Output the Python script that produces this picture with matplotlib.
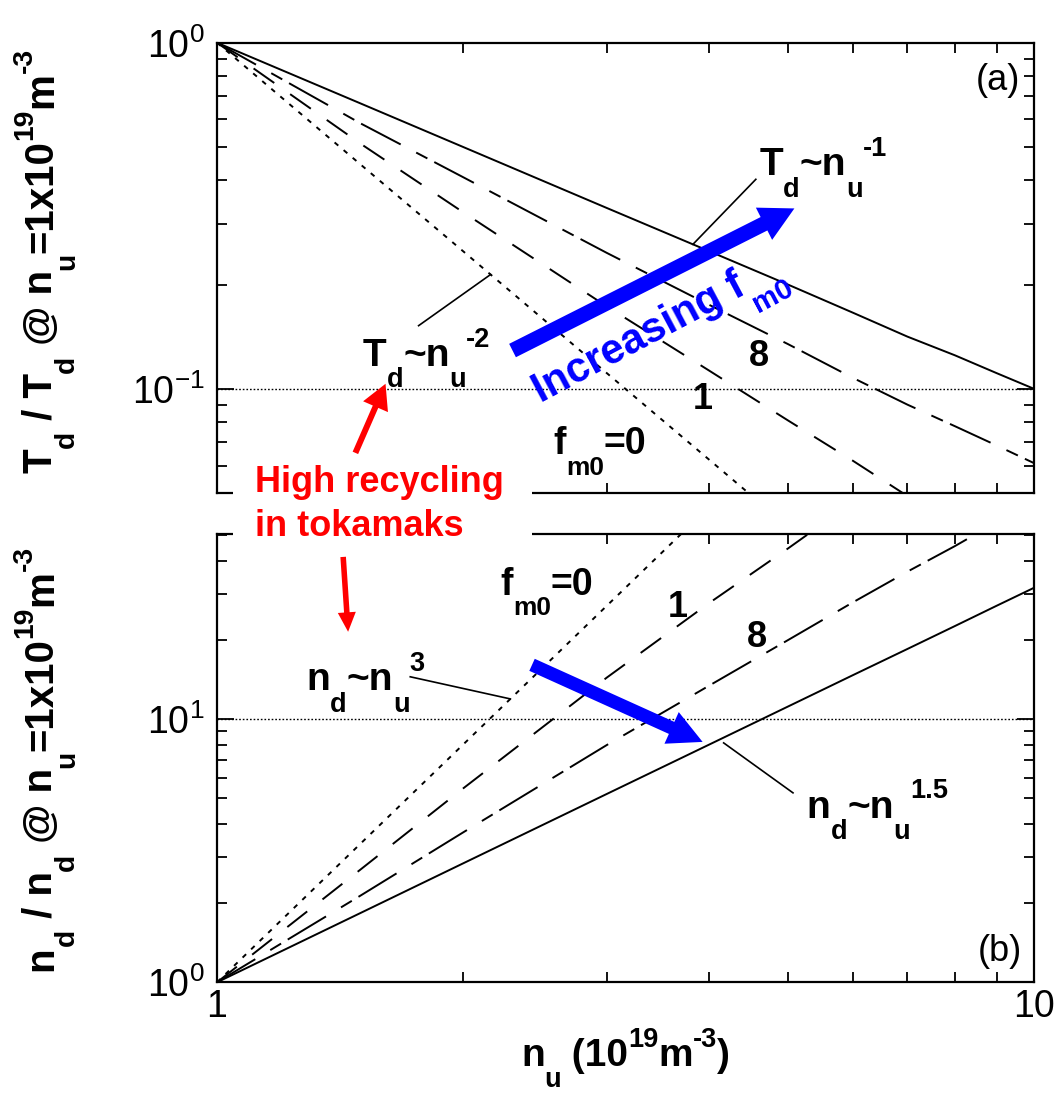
import numpy as np
import matplotlib
matplotlib.use('Agg')
import matplotlib.pyplot as plt
from matplotlib.ticker import NullFormatter
from matplotlib.patches import Rectangle
from matplotlib.transforms import IdentityTransform

plt.rcParams['font.family'] = ['Liberation Sans', 'DejaVu Sans']
plt.rcParams['mathtext.fontset'] = 'custom'
plt.rcParams['mathtext.rm'] = 'Liberation Sans'
plt.rcParams['mathtext.it'] = 'Liberation Sans:italic'
plt.rcParams['mathtext.bf'] = 'Liberation Sans:bold'

# 上流密度 n_u (10^19 m^-3)
n_u = [1, 1.5, 2, 3, 4, 5, 6, 7, 8, 9, 10]

# (a) T_d / T_d(n_u=1)
td_f0 = [1, 0.444, 0.25, 0.111, 0.0625, 0.04, 0.0278, 0.0204, 0.0156, 0.0123, 0.01]
td_f1 = [1, 0.51, 0.324, 0.173, 0.113, 0.081, 0.062, 0.049, 0.041, 0.035, 0.0295]
td_f8 = [1, 0.584, 0.409, 0.247, 0.175, 0.1346, 0.1076, 0.090, 0.078, 0.0686, 0.061]
td_lim = [1, 0.667, 0.5, 0.333, 0.25, 0.2, 0.166, 0.1415, 0.125, 0.111, 0.1]

# (b) n_d / n_d(n_u=1)
nd_f0 = [1, 3.375, 8, 27, 64, 125, 216, 343, 512, 729, 1000]
nd_f1 = [1, 2.69, 5.45, 14.4, 27.6, 44.6, 66.8, 93.8, 126, 163, 204]
nd_f8 = [1, 2.14, 3.71, 7.98, 13.4, 20.0, 27.8, 36.4, 45.5, 56.1, 68]
nd_lim = [1, 1.837, 2.83, 5.2, 8, 11.18, 14.7, 18.5, 22.6, 27, 31.6]

# 線種
STYLE_F0 = dict(color='k', lw=1.4, ls=(0, (2.5, 3.6)))
STYLE_F1 = dict(color='k', lw=1.4, ls=(0, (13, 10)))
STYLE_F8 = dict(color='k', lw=1.4, ls=(0, (23, 9, 6.5, 4)))
STYLE_LIM = dict(color='k', lw=1.4, ls='-')
REF_LINE = dict(color='k', lw=1.0, ls=(0, (1.2, 1.4)))

W, H = 1054, 1096
PX_PER_PT = 100 / 72


def on_curve(x, xs, ys):
    """log-log補間で曲線上の値を返す"""
    return 10 ** np.interp(np.log10(x), np.log10(xs), np.log10(ys))


def setup_axis(ax, ylim):
    ax.set_xscale('log')
    ax.set_yscale('log')
    ax.set_xlim(1, 10)
    ax.set_ylim(*ylim)
    ax.tick_params(which='both', direction='in', top=True, right=True,
                   width=1.3, labelsize=27)
    ax.tick_params(which='major', length=12)
    ax.tick_params(which='minor', length=7.5)
    ax.tick_params(axis='y', pad=9)
    ax.tick_params(axis='x', pad=5)
    ax.set_xticks([1, 10], ['1', '10'])
    ax.xaxis.set_minor_formatter(NullFormatter())
    ax.yaxis.set_minor_formatter(NullFormatter())
    for s in ax.spines.values():
        s.set_linewidth(1.6)


def arrow(ax, tail, tip, color, hl, hw, tw):
    ax.annotate('', xy=tip, xytext=tail,
                arrowprops=dict(arrowstyle=f'simple,head_length={hl},head_width={hw},tail_width={tw}',
                                mutation_scale=10, color=color, lw=0,
                                shrinkA=0, shrinkB=0))


def rich_text(x, y, parts, size, angle=0, color='k', transform=None, weight='bold'):
    """(文字列, 種別) を順に並べて描く．種別は '' / 'sub' / 'sup'．
    (x, y) は先頭文字の左端・ベースライン．"""
    if transform is not None:
        x, y = transform.transform((x, y))
    renderer = fig.canvas.get_renderer()
    th = np.deg2rad(angle)
    ux, uy = np.cos(th), np.sin(th)
    pos = 0.0
    for s, kind in parts:
        fs = size if kind == '' else size * 0.7
        off = {'': 0.0, 'sub': -0.55, 'sup': 0.5}[kind] * size * PX_PER_PT
        t = fig.text(x + pos * ux - off * uy, y + pos * uy + off * ux, s,
                     transform=IdentityTransform(), fontsize=fs,
                     fontweight=weight, color=color, ha='left',
                     va='baseline', rotation_mode='anchor')
        pos += t.get_window_extent(renderer).width
        t.set_rotation(angle)


fig = plt.figure(figsize=(W / 100, H / 100), dpi=100)
ax_t = fig.add_axes([217 / W, 1 - 493 / H, 817 / W, 450.3 / H])
ax_b = fig.add_axes([217 / W, 1 - 982.3 / H, 817 / W, 448.3 / H])

# (a) 温度
setup_axis(ax_t, (0.05, 1))
ax_t.tick_params(labelbottom=False)
ax_t.axhline(0.1, **REF_LINE)
ax_t.plot(n_u, td_lim, **STYLE_LIM)
ax_t.plot(n_u, td_f0, **STYLE_F0)
ax_t.plot(n_u, td_f1, **STYLE_F1)
ax_t.plot(n_u, td_f8, **STYLE_F8)

# (b) 密度
setup_axis(ax_b, (1, 50.6))
ax_b.axhline(10, **REF_LINE)
ax_b.plot(n_u, nd_lim, **STYLE_LIM)
ax_b.plot(n_u, nd_f0, **STYLE_F0)
ax_b.plot(n_u, nd_f1, **STYLE_F1)
ax_b.plot(n_u, nd_f8, **STYLE_F8)

# 注記 (a)
rich_text(4.61, 0.414, [('T', ''), ('d', 'sub'), ('~n', ''), ('u', 'sub'), ('-1', 'sup')],
          28, transform=ax_t.transData)
ax_t.plot([4.566, 3.824], [0.403, on_curve(3.824, n_u, td_lim)], 'k-', lw=1.2)
rich_text(1.509, 0.1164, [('T', ''), ('d', 'sub'), ('~n', ''), ('u', 'sub'), ('-2', 'sup')],
          28, transform=ax_t.transData)
ax_t.plot([1.765, 2.162], [0.1522, on_curve(2.162, n_u, td_f0)], 'k-', lw=1.2)
rich_text(2.58, 0.0648, [('f', ''), ('m0', 'sub'), ('=0', '')], 27,
          transform=ax_t.transData)
ax_t.text(3.825, 0.0875, '1', fontsize=26, fontweight='bold', ha='left', va='baseline')
ax_t.text(4.48, 0.1164, '8', fontsize=26, fontweight='bold', ha='left', va='baseline')
ax_t.text(0.983, 0.895, '(a)', transform=ax_t.transAxes, fontsize=26,
          ha='right', va='baseline')

arrow(ax_t, (2.30, 0.129), (5.09, 0.332), 'blue', 2.45, 2.6, 1.08)
rich_text(2.49, 0.0911, [('Increasing f', ''), ('m0', 'sub')], 30, angle=28,
          color='blue', transform=ax_t.transData)
arrow(ax_t, (1.477, 0.0653), (1.608, 0.1034), 'red', 1.8, 1.95, 0.43)

# 注記 (b)
rich_text(2.223, 29.7, [('f', ''), ('m0', 'sub'), ('=0', '')], 27,
          transform=ax_b.transData)
ax_b.text(3.56, 24.5, '1', fontsize=26, fontweight='bold', ha='left', va='baseline')
ax_b.text(4.45, 18.8, '8', fontsize=26, fontweight='bold', ha='left', va='baseline')
rich_text(1.285, 12.9, [('n', ''), ('d', 'sub'), ('~n', ''), ('u', 'sub'), ('3', 'sup')],
          28, transform=ax_b.transData)
ax_b.plot([1.724, 2.286], [14.5, on_curve(2.286, n_u, nd_f0)], 'k-', lw=1.2)
rich_text(5.27, 4.22, [('n', ''), ('d', 'sub'), ('~n', ''), ('u', 'sub'), ('1.5', 'sup')],
          28, transform=ax_b.transData)
ax_b.plot([4.17, 5.07], [8.13, 5.25], 'k-', lw=1.2)
ax_b.text(0.985, 0.0475, '(b)', transform=ax_b.transAxes, fontsize=26,
          ha='right', va='baseline')

arrow(ax_b, (2.43, 16.1), (3.93, 8.2), 'blue', 2.45, 2.5, 0.95)
arrow(ax_b, (1.427, 41.4), (1.447, 21.5), 'red', 1.4, 1.3, 0.4)

# 2つのパネルにまたがる注記（白地で枠線を隠す）
fig.add_artist(Rectangle((233 / W, 1 - 550 / H), 299 / W, 92 / H,
                         transform=fig.transFigure, facecolor='white',
                         edgecolor='none', zorder=5))
red_txt = dict(color='red', fontsize=26, fontweight='bold', ha='left',
               va='baseline', zorder=6)
fig.text(255 / W, 1 - 492 / H, 'High recycling', **red_txt)
fig.text(255 / W, 1 - 536 / H, 'in tokamaks', **red_txt)

# 軸ラベル
rich_text(52, H - 473, [('T', ''), ('d', 'sub'), (' / T', ''), ('d', 'sub'),
                        (' @ n', ''), ('u', 'sub'), ('=1x10', ''), ('19', 'sup'),
                        ('m', ''), ('-3', 'sup')], 29, angle=90)
rich_text(52, H - 971, [('n', ''), ('d', 'sub'), (' / n', ''), ('d', 'sub'),
                        (' @ n', ''), ('u', 'sub'), ('=1x10', ''), ('19', 'sup'),
                        ('m', ''), ('-3', 'sup')], 29, angle=90)
rich_text(521, H - 1066, [('n', ''), ('u', 'sub'), (' (10', ''), ('19', 'sup'),
                          ('m', ''), ('-3', 'sup'), (')', '')], 28)

fig.savefig('out.png', dpi=100)
